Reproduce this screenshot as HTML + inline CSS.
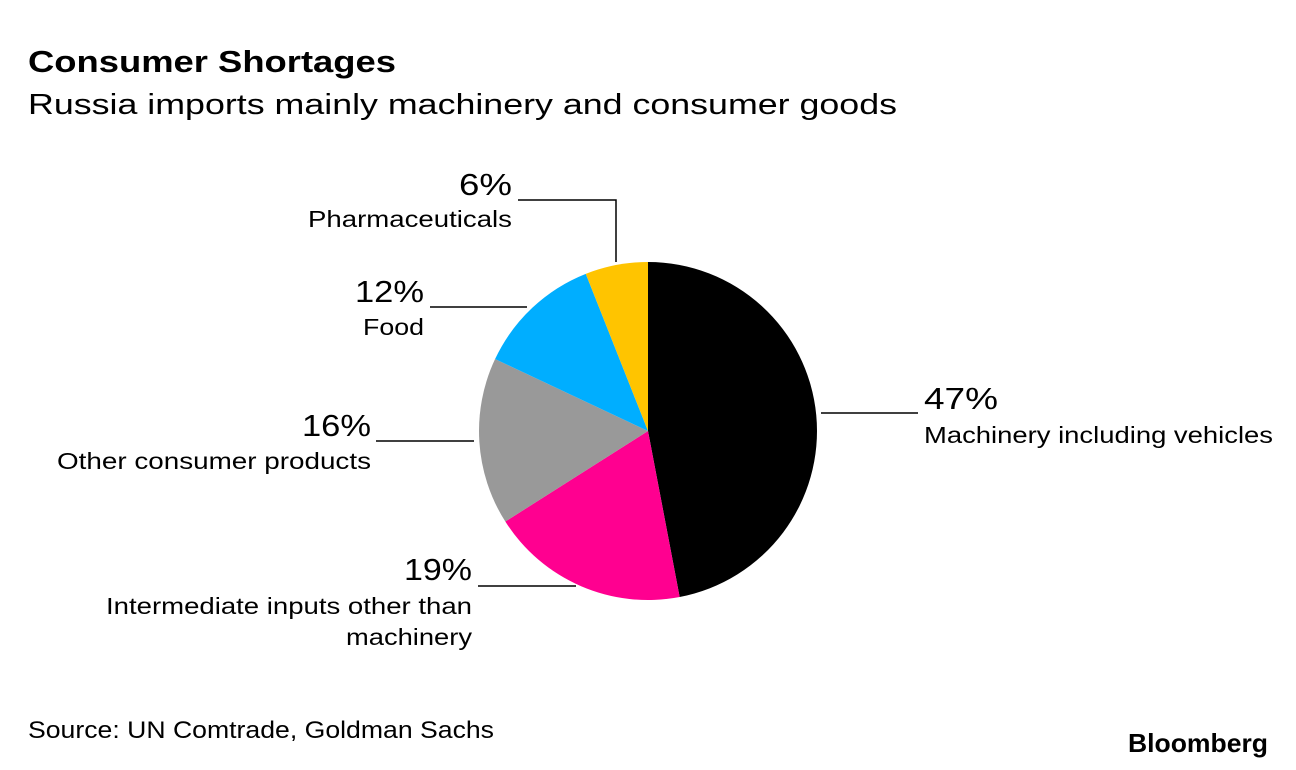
<!DOCTYPE html>
<html><head><meta charset="utf-8"><style>
body{margin:0;background:#fff;font-family:"Liberation Sans",sans-serif;color:#000}
#c{position:relative;width:1296px;height:770px;overflow:hidden}
</style></head><body>
<div id="c">
<svg id="pie" width="1296" height="770" style="position:absolute;left:0;top:0" font-family="Liberation Sans, sans-serif">
<text x="28" y="72" font-size="31" font-weight="bold" textLength="368" lengthAdjust="spacingAndGlyphs">Consumer Shortages</text>
<text x="28" y="114" font-size="29" textLength="869" lengthAdjust="spacingAndGlyphs">Russia imports mainly machinery and consumer goods</text>
<text x="28" y="738" font-size="24" textLength="466" lengthAdjust="spacingAndGlyphs">Source: UN Comtrade, Goldman Sachs</text>
<text x="1128" y="752" font-size="26" font-weight="bold" textLength="140" lengthAdjust="spacingAndGlyphs">Bloomberg</text>
</svg>
</div>
<script>
const categories=["Machinery including vehicles","Intermediate inputs other than machinery","Other consumer products","Food","Pharmaceuticals"];
const values=[47,19,16,12,6];
const colors=["#000000","#ff0090","#999999","#00aeff","#ffc400"];
const svg=document.getElementById('pie');
const NS="http://www.w3.org/2000/svg";
const cx=648,cy=431,r=169;
const total=values.reduce((a,b)=>a+b,0);
let a0=0;
values.forEach((v,i)=>{
  const a1=a0+v/total*2*Math.PI;
  const x0=cx+r*Math.sin(a0),y0=cy-r*Math.cos(a0),x1=cx+r*Math.sin(a1),y1=cy-r*Math.cos(a1);
  const p=document.createElementNS(NS,'path');
  p.setAttribute('d',`M${cx},${cy}L${x0},${y0}A${r},${r} 0 ${a1-a0>Math.PI?1:0} 1 ${x1},${y1}Z`);
  p.setAttribute('fill',colors[i]);
  
  
  svg.appendChild(p);
  a0=a1;
});
function line(pts,name){const l=document.createElementNS(NS,'polyline');l.setAttribute('points',pts);l.setAttribute('fill','none');l.setAttribute('stroke','#000');l.setAttribute('stroke-width','1.5');


svg.appendChild(l);}
function text(x,y,s,size,anchor,len,name){const t=document.createElementNS(NS,'text');t.setAttribute('x',x);t.setAttribute('y',y);t.setAttribute('font-size',size);t.setAttribute('text-anchor',anchor);t.setAttribute('textLength',len);t.setAttribute('lengthAdjust','spacingAndGlyphs');t.textContent=s;


svg.appendChild(t);}
line("821,413 918,413","leader-machinery");
text(924,409,values[0]+"%",31,"start",74,"pct-machinery");
text(924,443,categories[0],23,"start",349,"label-machinery");
line("478,586 576,586","leader-intermediate");
text(472,580,values[1]+"%",31,"end",68,"pct-intermediate");
text(472,614,"Intermediate inputs other than",23,"end",366,"label-intermediate-1");
text(472,645,"machinery",23,"end",126,"label-intermediate-2");
line("376,441 474,441","leader-other");
text(371,436,values[2]+"%",31,"end",69,"pct-other");
text(371,469,categories[2],23,"end",314,"label-other");
line("430,307 527,307","leader-food");
text(424,302,values[3]+"%",31,"end",69,"pct-food");
text(424,335,categories[3],23,"end",61,"label-food");
line("616,262 616,200 518,200","leader-pharma");
text(512,195,values[4]+"%",31,"end",53,"pct-pharma");
text(512,227,categories[4],23,"end",204,"label-pharma");
</script>
</body></html>
